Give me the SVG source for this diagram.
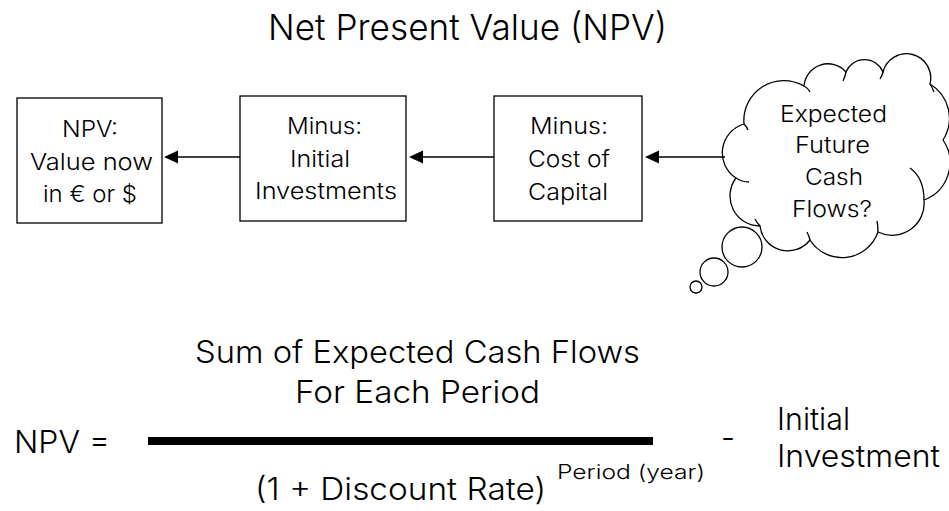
<svg xmlns="http://www.w3.org/2000/svg" width="949" height="511" viewBox="0 0 949 511">
<style>
text{font-family:Inter,Roboto,"Liberation Sans",Arial,sans-serif;font-weight:300;fill:#000}
.t{font-size:36px}
.b{font-size:23px}
.f{font-size:31px}
.s{font-size:20px}
.box{fill:#fff;stroke:#000;stroke-width:1.3}
.ln{stroke:#000;stroke-width:1.3;fill:none}
</style>
<rect width="949" height="511" fill="#fff"/>
<text class="t" x="268" y="40" textLength="399" lengthAdjust="spacingAndGlyphs">Net Present Value (NPV)</text>

<g id="connectors">
<line class="ln" x1="240" y1="157" x2="178" y2="157"/>
<path d="M164,157 L178,150.5 L178,163.5 Z" fill="#000"/>
<line class="ln" x1="494" y1="157" x2="423" y2="157"/>
<path d="M409,157 L423,150.5 L423,163.5 Z" fill="#000"/>
<line class="ln" x1="725" y1="157" x2="659" y2="157"/>
<path d="M645,157 L659,150.5 L659,163.5 Z" fill="#000"/>
</g>

<g id="node-npv">
<rect class="box" x="17" y="98" width="145" height="125"/>
<text class="b" x="62" y="137" textLength="56" lengthAdjust="spacingAndGlyphs">NPV:</text>
<text class="b" x="30" y="170" textLength="123" lengthAdjust="spacingAndGlyphs">Value now</text>
<text class="b" x="43" y="202" textLength="94" lengthAdjust="spacingAndGlyphs">in € or $</text>
</g>

<g id="node-initial">
<rect class="box" x="240" y="96" width="166" height="125"/>
<text class="b" x="287" y="134" textLength="75" lengthAdjust="spacingAndGlyphs">Minus:</text>
<text class="b" x="290" y="167" textLength="60" lengthAdjust="spacingAndGlyphs">Initial</text>
<text class="b" x="255" y="199" textLength="142" lengthAdjust="spacingAndGlyphs">Investments</text>
</g>

<g id="node-cost">
<rect class="box" x="494" y="96" width="148" height="125"/>
<text class="b" x="530" y="134" textLength="78" lengthAdjust="spacingAndGlyphs">Minus:</text>
<text class="b" x="528" y="167" textLength="82" lengthAdjust="spacingAndGlyphs">Cost of</text>
<text class="b" x="528" y="200" textLength="80" lengthAdjust="spacingAndGlyphs">Capital</text>
</g>

<g id="node-cloud">
<path class="ln" fill="#fff" d="M736,178 A30,30 0 0 1 744,124 A40,40 0 0 1 804,86 A24,24 0 0 1 846,72 A20,20 0 0 1 883,72 A24,24 0 0 1 930,84 A40,40 0 0 1 943,140 A40,40 0 0 1 924,200 A32,32 0 0 1 878,232 A38,38 0 0 1 810,240 A28,28 0 0 1 760,226 A30,30 0 0 1 736,178 Z"/>
<path class="ln" d="M744,124 q3,3 4,6 M804,86 q4,2 6,6 M846,72 q-1,5 -3,9 M883,72 q-1,4 -3,7 M930,84 q2,3 4,8 M924,200 q0,-22 -14,-32 M878,232 q0,-6 -1,-11 M810,240 q-1,-4 -3,-8 M760,226 q-3,-3 -5,-7 M736,178 q6,4 13,4"/>
<circle class="ln" cx="742" cy="247" r="20" fill="#fff"/>
<circle class="ln" cx="714" cy="272" r="14" fill="#fff"/>
<circle class="ln" cx="696" cy="287" r="6" fill="#fff"/>
<text class="b" x="780" y="122" textLength="107" lengthAdjust="spacingAndGlyphs">Expected</text>
<text class="b" x="795" y="153" textLength="75" lengthAdjust="spacingAndGlyphs">Future</text>
<text class="b" x="805" y="185" textLength="58" lengthAdjust="spacingAndGlyphs">Cash</text>
<text class="b" x="792" y="217" textLength="80" lengthAdjust="spacingAndGlyphs">Flows?</text>
</g>

<g id="formula">
<text class="f" x="195" y="363" textLength="445" lengthAdjust="spacingAndGlyphs">Sum of Expected Cash Flows</text>
<text class="f" x="295" y="403" textLength="245" lengthAdjust="spacingAndGlyphs">For Each Period</text>
<text class="f" x="14" y="453" textLength="96" lengthAdjust="spacingAndGlyphs">NPV =</text>
<rect x="148" y="437" width="505" height="8" fill="#000"/>
<text class="f" x="255" y="500" textLength="291" lengthAdjust="spacingAndGlyphs">(1 + Discount Rate)</text>
<text class="s" x="557" y="479" textLength="148" lengthAdjust="spacingAndGlyphs">Period (year)</text>
<text class="f" x="721" y="449">-</text>
<text class="f" x="777" y="430" textLength="73" lengthAdjust="spacingAndGlyphs">Initial</text>
<text class="f" x="777" y="467" textLength="163" lengthAdjust="spacingAndGlyphs">Investment</text>
</g>
</svg>
